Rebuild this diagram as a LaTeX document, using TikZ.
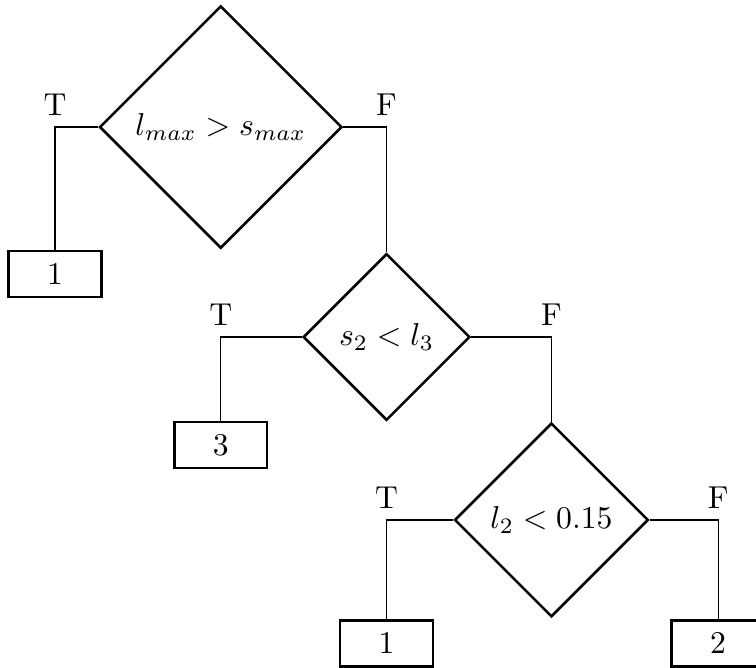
\documentclass[tikz,border=0pt]{standalone}
\usetikzlibrary{shapes.geometric, positioning}
\tikzset{
  decision/.style={diamond, draw, thick, inner sep=0pt, align=center},
  leaf/.style={rectangle, draw, thick, minimum width=1.03cm,
               minimum height=0.51cm, inner sep=0pt},
  branch/.style={thin},
}

\begin{document}
\begin{tikzpicture}
  \useasboundingbox (-2.45,1.41) rectangle (5.94,-6.00);
  \clip (-2.45,1.41) rectangle (5.94,-6.00);

  % decision nodes
  \node[decision, minimum size=2.69cm] (lmax) at (0,0) {$l_{max} > s_{max}$};
  \node[decision, minimum size=1.85cm] (s2) at (1.84,-2.33) {$s_2 < l_3$};
  \node[decision, minimum size=2.15cm] (l2) at (3.67,-4.36) {$l_2 < 0.15$};

  % leaves
  \node[leaf] (leafA) at (-1.84,-1.63) {1};
  \node[leaf] (leafB) at (0,-3.53) {3};
  \node[leaf] (leafC) at (1.84,-5.73) {1};
  \node[leaf] (leafD) at (5.52,-5.73) {2};

  % branches
  \draw[branch] (lmax.west) -| node[above]{T} (leafA.north);
  \draw[branch] (lmax.east) -| node[above]{F} (s2.north);
  \draw[branch] (s2.west) -| node[above]{T} (leafB.north);
  \draw[branch] (s2.east) -| node[above]{F} (l2.north);
  \draw[branch] (l2.west) -| node[above]{T} (leafC.north);
  \draw[branch] (l2.east) -| node[above]{F} (leafD.north);
\end{tikzpicture}
\end{document}
